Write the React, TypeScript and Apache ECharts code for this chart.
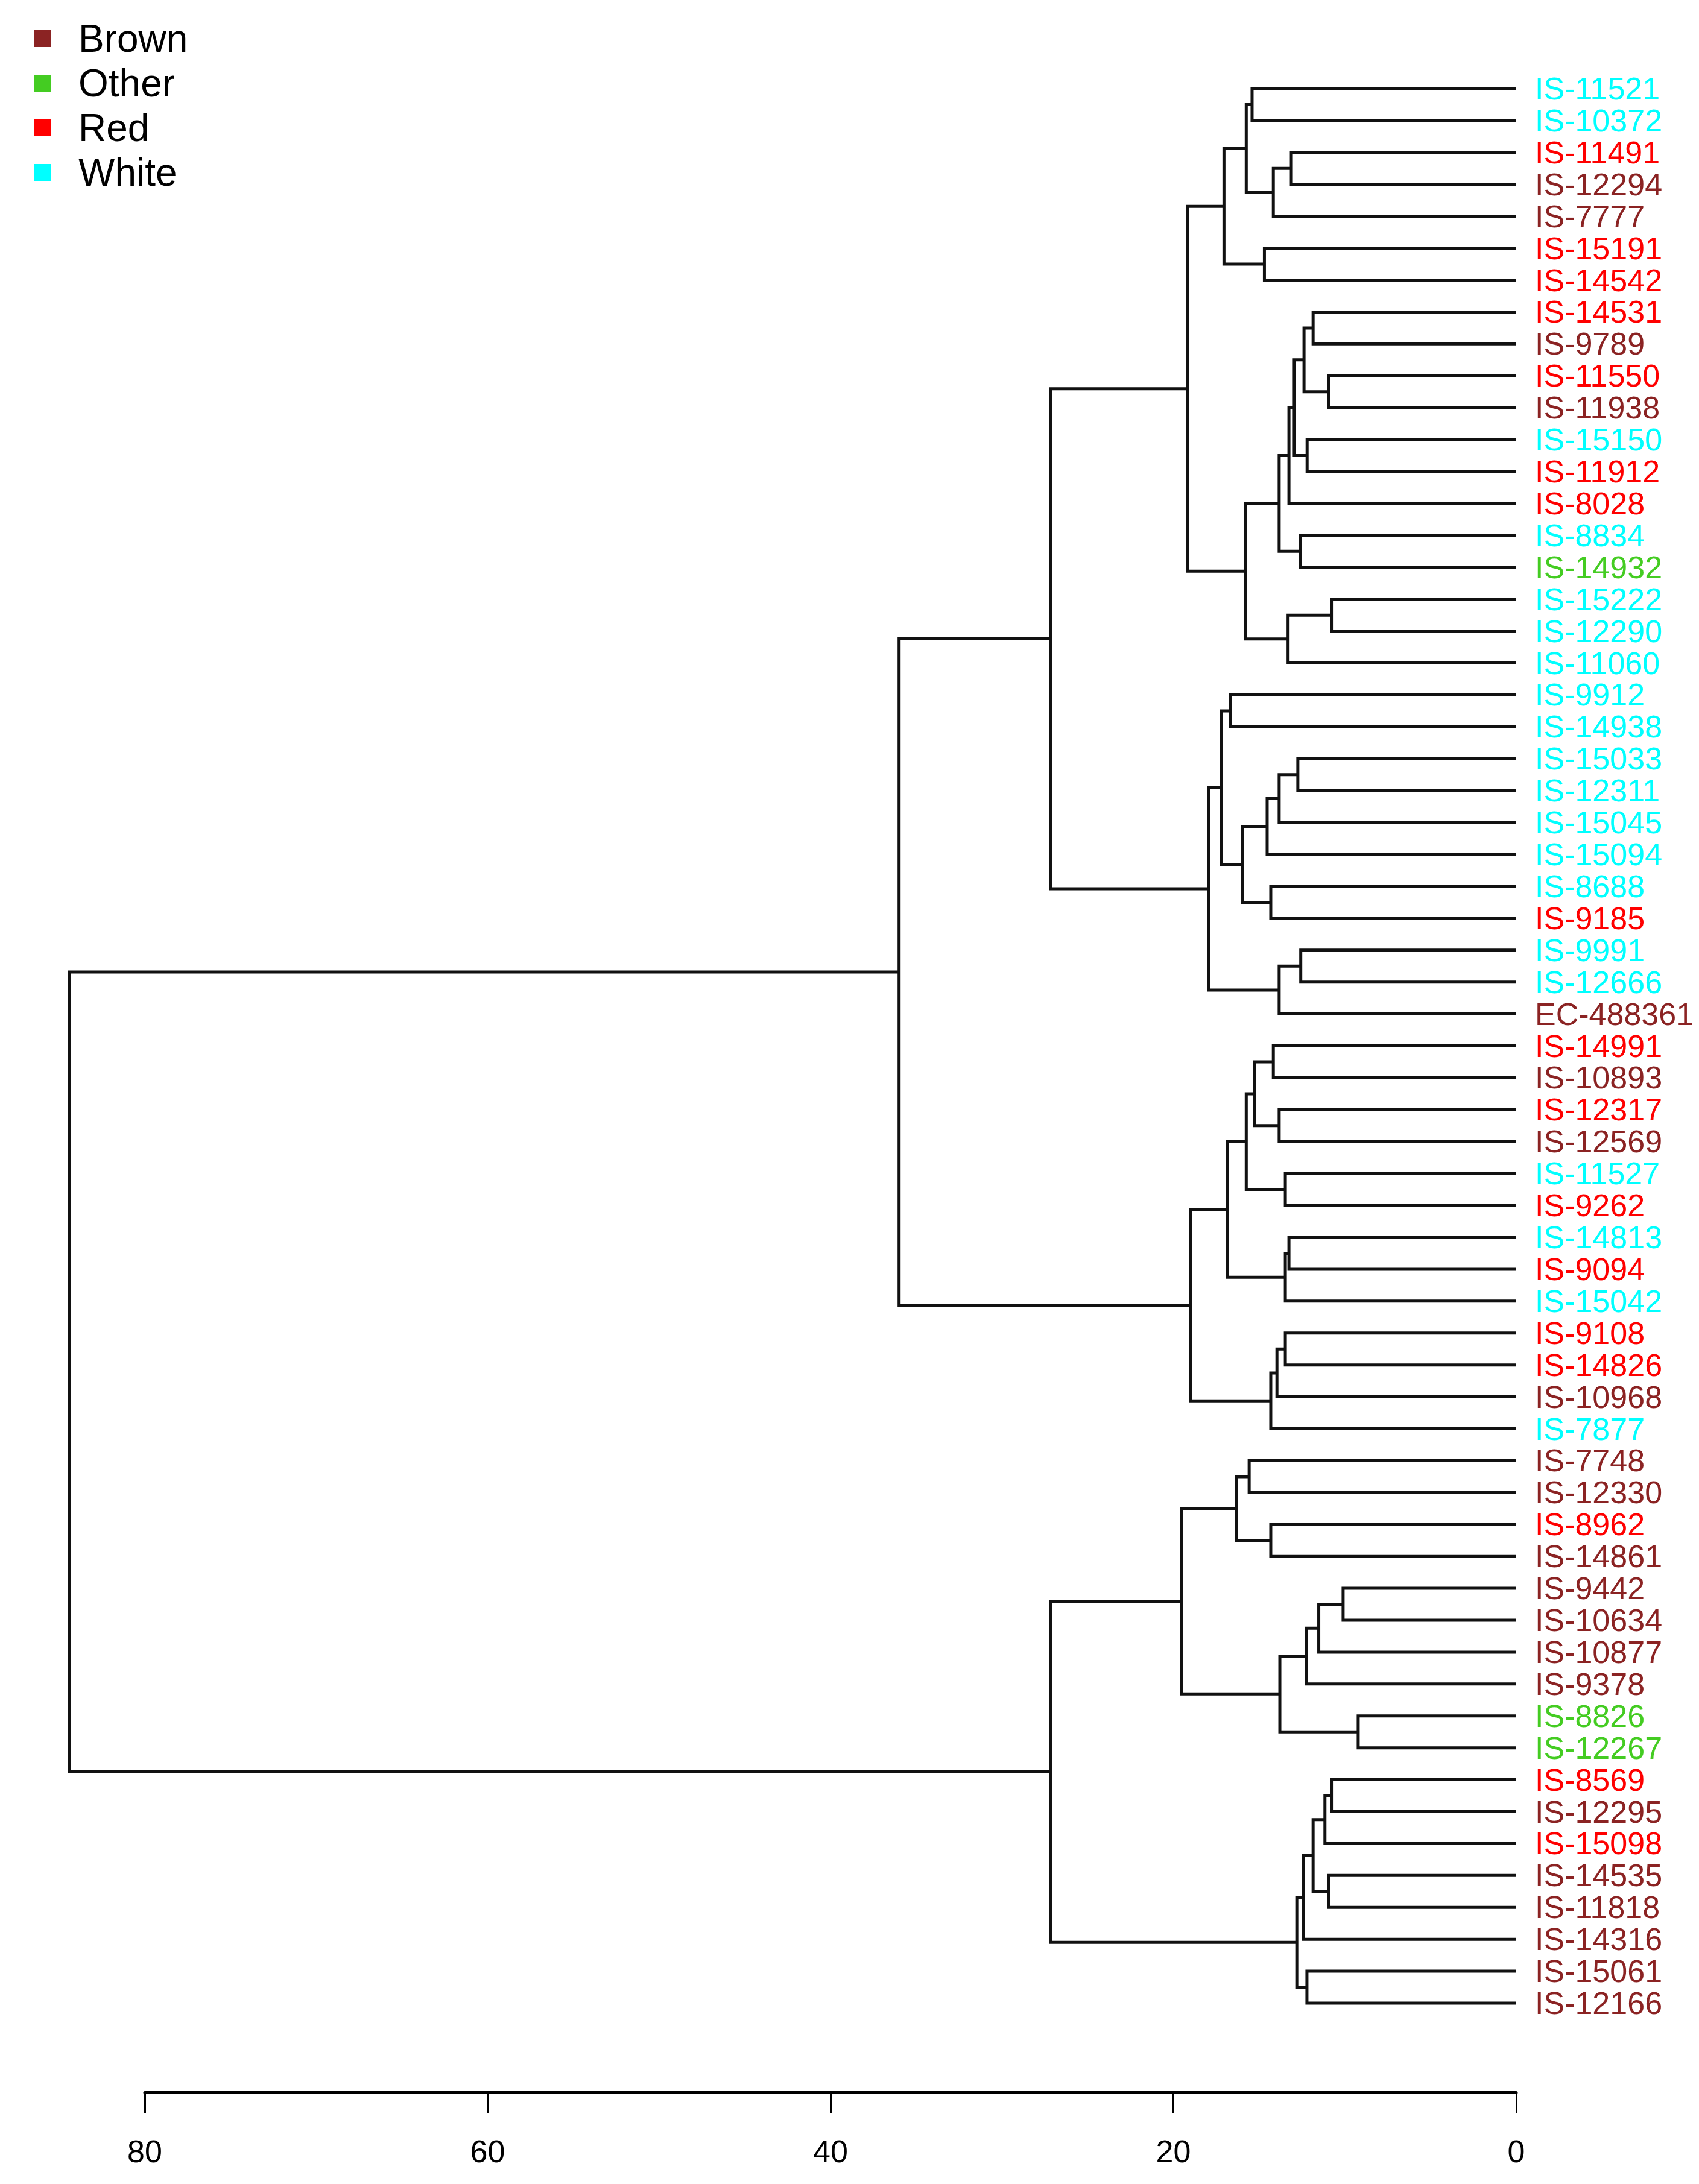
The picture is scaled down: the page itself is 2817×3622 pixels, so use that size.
import React, { useEffect, useRef } from "react";
import * as echarts from "echarts";

// ---------- data ----------
const leafLabels = [
  "IS-11521", "IS-10372", "IS-11491", "IS-12294", "IS-7777", "IS-15191", "IS-14542",
  "IS-14531", "IS-9789", "IS-11550", "IS-11938", "IS-15150", "IS-11912", "IS-8028",
  "IS-8834", "IS-14932", "IS-15222", "IS-12290", "IS-11060",
  "IS-9912", "IS-14938", "IS-15033", "IS-12311", "IS-15045", "IS-15094", "IS-8688",
  "IS-9185", "IS-9991", "IS-12666", "EC-488361",
  "IS-14991", "IS-10893", "IS-12317", "IS-12569", "IS-11527", "IS-9262", "IS-14813",
  "IS-9094", "IS-15042", "IS-9108", "IS-14826", "IS-10968", "IS-7877",
  "IS-7748", "IS-12330", "IS-8962", "IS-14861", "IS-9442", "IS-10634", "IS-10877",
  "IS-9378", "IS-8826", "IS-12267",
  "IS-8569", "IS-12295", "IS-15098", "IS-14535", "IS-11818", "IS-14316", "IS-15061", "IS-12166",
];

const leafGroups = [
  "White", "White", "Red", "Brown", "Brown", "Red", "Red",
  "Red", "Brown", "Red", "Brown", "White", "Red", "Red",
  "White", "Other", "White", "White", "White",
  "White", "White", "White", "White", "White", "White", "White",
  "Red", "White", "White", "Brown",
  "Red", "Brown", "Red", "Brown", "White", "Red", "White",
  "Red", "White", "Red", "Red", "Brown", "White",
  "Brown", "Brown", "Red", "Brown", "Brown", "Brown", "Brown",
  "Brown", "Other", "Other",
  "Red", "Brown", "Red", "Brown", "Brown", "Brown", "Brown", "Brown",
];

const groupNames = ["Brown", "Other", "Red", "White"];
const groupColors = ["#8B2323", "#44CC22", "#FF0000", "#00FFFF"];

// hclust-style merges: negative = leaf (1-based, top to bottom), positive = earlier merge row (1-based)
const mergePairs: number[][] = [
  [-1, -2], [-3, -4], [2, -5], [1, 3], [-6, -7], [4, 5],
  [-8, -9], [-10, -11], [7, 8], [-12, -13], [9, 10], [11, -14], [-15, -16], [12, 13],
  [-17, -18], [15, -19], [14, 16], [6, 17],
  [-20, -21], [-22, -23], [20, -24], [21, -25], [-26, -27], [22, 23], [19, 24],
  [-28, -29], [26, -30], [25, 27], [18, 28],
  [-31, -32], [-33, -34], [30, 31], [-35, -36], [32, 33], [-37, -38], [35, -39], [34, 36],
  [-40, -41], [38, -42], [39, -43], [37, 40], [29, 41],
  [-44, -45], [-46, -47], [43, 44], [-48, -49], [46, -50], [47, -51], [-52, -53], [48, 49], [45, 50],
  [-54, -55], [52, -56], [-57, -58], [53, 54], [55, -59], [-60, -61], [56, 57], [51, 58],
  [42, 59],
];

const mergeHeights = [
  15.41, 13.12, 14.17, 15.75, 14.69, 17.05,
  11.85, 10.95, 12.38, 12.2, 12.95, 13.26, 12.59, 13.83,
  10.78, 13.31, 15.79, 19.16,
  16.67, 12.74, 13.83, 14.53, 14.32, 15.96, 17.2,
  12.57, 13.83, 17.94, 27.15,
  14.17, 13.83, 15.26, 13.47, 15.75, 13.26, 13.47, 16.84,
  13.47, 13.96, 14.32, 18.99, 36.0,
  15.58, 14.32, 16.32, 10.1, 11.52, 12.25, 9.22, 13.79, 19.52,
  10.78, 11.16, 10.95, 11.85, 12.42, 12.21, 12.8, 27.15,
  84.4,
];

const axisMin = 0;
const axisMax = 80;
const axisInterval = 20;

// ---------- layout ----------
const W = 2817;
const H = 3622;
const X0 = 2514; // pixel of height 0
const X80 = 240; // pixel of height 80
const PX = (X0 - X80) / axisMax;
const TREE_MAX = 88;
const LEAF_TOP = 147;
const LEAF_BOTTOM = 3322;
const FONT = "'Liberation Sans', Arial, Helvetica, sans-serif";

export default function App() {
  const ref = useRef<HTMLDivElement>(null);

  useEffect(() => {
    document.body.style.margin = "0";
    if (!ref.current) return;
    const chart = echarts.init(ref.current, null, { renderer: "svg" });

    const nodeY: number[] = [];
    const nodeH: number[] = [];
    const pos = (c: number) =>
      c < 0 ? { y: -c - 1, h: 0 } : { y: nodeY[c - 1], h: nodeH[c - 1] };
    const segData = mergePairs.map(([a, b], k) => {
      const A = pos(a);
      const B = pos(b);
      nodeY[k] = (A.y + B.y) / 2;
      nodeH[k] = mergeHeights[k];
      return [A.h, A.y, B.h, B.y, mergeHeights[k]];
    });

    const colorOf: Record<string, string> = {};
    leafLabels.forEach((l, i) => {
      colorOf[l] = groupColors[groupNames.indexOf(leafGroups[i])];
    });

    const treeLeft = X0 - TREE_MAX * PX;

    chart.setOption({
      animation: false,
      backgroundColor: "#ffffff",
      grid: [
        {
          left: treeLeft,
          width: TREE_MAX * PX,
          top: LEAF_TOP,
          height: LEAF_BOTTOM - LEAF_TOP,
        },
        {
          left: X80,
          width: X0 - X80,
          top: 3468,
          height: 2,
        },
      ],
      legend: {
        orient: "vertical",
        left: 57,
        top: 32,
        padding: 0,
        itemWidth: 28,
        itemHeight: 28,
        itemGap: 10,
        icon: "rect",
        data: groupNames,
        itemStyle: { opacity: 1 },
        textStyle: {
          fontSize: 64,
          lineHeight: 64,
          fontFamily: FONT,
          color: "#000",
          padding: [0, 0, 0, 40],
        },
      },
      xAxis: [
        {
          gridIndex: 0,
          type: "value",
          min: 0,
          max: TREE_MAX,
          inverse: true,
          show: false,
        },
        {
          gridIndex: 1,
          type: "value",
          min: axisMin,
          max: axisMax,
          interval: axisInterval,
          inverse: true,
          position: "bottom",
          axisLine: { show: true, onZero: false, lineStyle: { color: "#000", width: 5 } },
          axisTick: { show: true, length: 35, lineStyle: { color: "#000", width: 3 } },
          splitLine: { show: false },
          axisLabel: { fontSize: 52, margin: 72, color: "#000", fontFamily: FONT },
        },
      ],
      yAxis: [
        {
          gridIndex: 0,
          type: "value",
          min: 0,
          max: leafLabels.length - 1,
          inverse: true,
          show: false,
        },
        {
          gridIndex: 0,
          type: "category",
          data: leafLabels,
          inverse: true,
          boundaryGap: false,
          position: "right",
          axisLine: { show: false },
          axisTick: { show: false },
          splitLine: { show: false },
          axisLabel: {
            interval: 0,
            margin: 31,
            fontSize: 52,
            fontFamily: FONT,
            color: (v: string) => colorOf[v] || "#000",
          },
        },
        {
          gridIndex: 1,
          type: "value",
          min: 0,
          max: 1,
          show: false,
        },
      ],
      series: [
        {
          type: "custom",
          xAxisIndex: 0,
          yAxisIndex: 0,
          clip: false,
          silent: true,
          encode: { x: [0, 2, 4], y: [1, 3] },
          data: segData,
          renderItem: (params: any, api: any) => {
            const a = api.coord([api.value(0), api.value(1)]);
            const a2 = api.coord([api.value(4), api.value(1)]);
            const b2 = api.coord([api.value(4), api.value(3)]);
            const b = api.coord([api.value(2), api.value(3)]);
            return {
              type: "polyline",
              shape: { points: [a, a2, b2, b] },
              style: { stroke: "#111", lineWidth: 5, fill: null },
            };
          },
        },
        ...groupNames.map((n, i) => ({
          type: "scatter",
          name: n,
          xAxisIndex: 0,
          yAxisIndex: 0,
          data: [],
          itemStyle: { color: groupColors[i], opacity: 1 },
        })),
      ],
    });

    return () => chart.dispose();
  }, []);

  return (
    <div
      ref={ref}
      style={{ position: "absolute", left: 0, top: 0, width: W, height: H }}
    />
  );
}
